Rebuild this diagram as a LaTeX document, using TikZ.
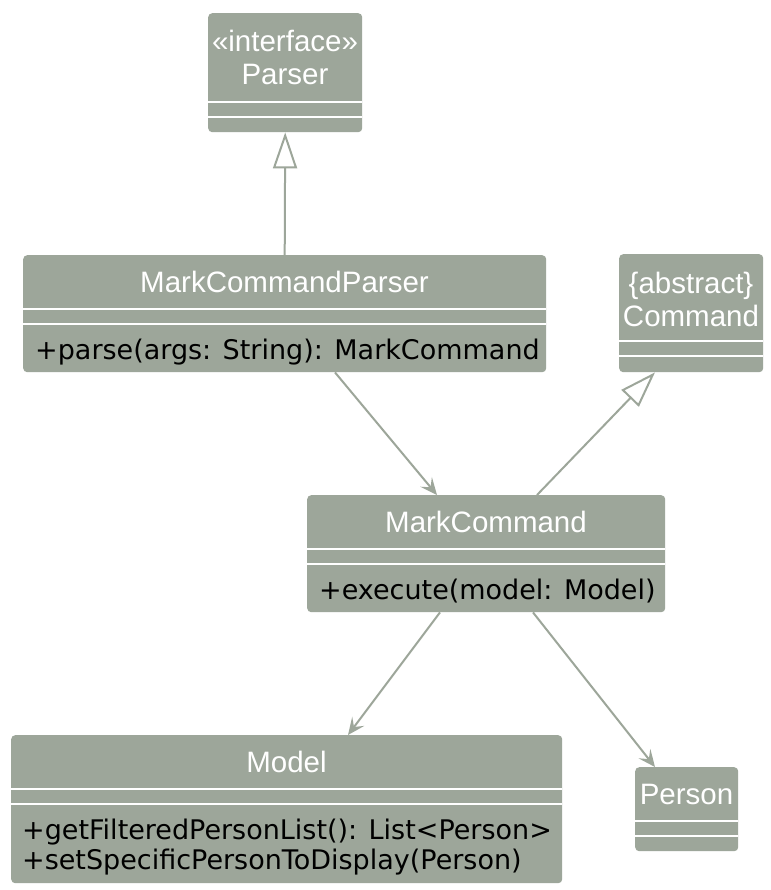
\documentclass[tikz,border=0pt]{standalone}
\usepackage{fontspec}
\newfontfamily\titlefont{Liberation Sans}
\newfontfamily\opfont{DejaVu Sans}
\usetikzlibrary{arrows.meta}
\definecolor{boxgreen}{HTML}{9DA69A}

\begin{document}
\begin{tikzpicture}[x=1pt, y=-1pt,
  classbox/.style={fill=boxgreen, rounded corners=4pt, inner sep=0pt, anchor=north west},
  title/.style={text=white, font=\titlefont\fontsize{29.5}{31}\selectfont, anchor=base, inner sep=0pt},
  oper/.style={text=black, font=\opfont\fontsize{27}{30}\selectfont, anchor=base west, inner sep=0pt},
  sep/.style={white, line width=2pt},
  dep/.style={draw=boxgreen, line width=2pt, -{Stealth[length=17pt,width=15pt,inset=7pt]}},
  impl/.style={draw=boxgreen, line width=2pt, -{Triangle[open,length=36pt,width=24pt,fill=white]}}]
% page size and background
\fill[white] (0,0) rectangle (770,890);
\useasboundingbox (0,0) rectangle (770,890);

% Parser interface
\node[classbox, minimum width=154pt, minimum height=119pt] (parser) at (208,13) {};
\node[title] (parser-st) at (285,52) {«interface»};
\node[title] (parser-name) at (285,85) {Parser};
\draw[sep] (208,102) -- (362,102);
\draw[sep] (208,117) -- (362,117);

% MarkCommandParser
\node[classbox, minimum width=523pt, minimum height=117pt] (mcp) at (23,255) {};
\node[title] (mcp-name) at (284.5,292) {MarkCommandParser};
\draw[sep] (23,309) -- (546,309);
\draw[sep] (23,324) -- (546,324);
\node[oper] (mcp-op) at (35,359) {+parse(args: String): MarkCommand};

% Command (abstract)
\node[classbox, minimum width=144pt, minimum height=118pt] (cmd) at (619,254) {};
\node[title] (cmd-st) at (691,293) {\{abstract\}};
\node[title] (cmd-name) at (691,326) {Command};
\draw[sep] (619,341) -- (763,341);
\draw[sep] (619,356) -- (763,356);

% MarkCommand
\node[classbox, minimum width=358pt, minimum height=117pt] (mc) at (307,495) {};
\node[title] (mc-name) at (486,532) {MarkCommand};
\draw[sep] (307,549) -- (665,549);
\draw[sep] (307,564) -- (665,564);
\node[oper] (mc-op) at (319,599) {+execute(model: Model)};

% Model
\node[classbox, minimum width=551pt, minimum height=148pt] (model) at (11,735) {};
\node[title] (model-name) at (286.5,772) {Model};
\draw[sep] (11,789) -- (562,789);
\draw[sep] (11,804) -- (562,804);
\node[oper] (model-op1) at (22,839) {+getFilteredPersonList(): List<Person>};
\node[oper] (model-op2) at (22,869) {+setSpecificPersonToDisplay(Person)};

% Person
\node[classbox, minimum width=103pt, minimum height=84pt] (person) at (635,767) {};
\node[title] (person-name) at (686.5,804) {Person};
\draw[sep] (635,821) -- (738,821);
\draw[sep] (635,836) -- (738,836);

% connectors
\draw[impl] (mcp.north) -- (parser.south);
\draw[impl] ([xshift=230pt]mc.north west) -- ([xshift=36pt]cmd.south west);
\draw[dep] ([xshift=312pt]mcp.south west) -- ([xshift=130pt]mc.north west);
\draw[dep] ([xshift=133pt]mc.south west) -- ([xshift=337pt]model.north west);
\draw[dep] ([xshift=226pt]mc.south west) -- ([xshift=20pt]person.north west);
\end{tikzpicture}
\end{document}
